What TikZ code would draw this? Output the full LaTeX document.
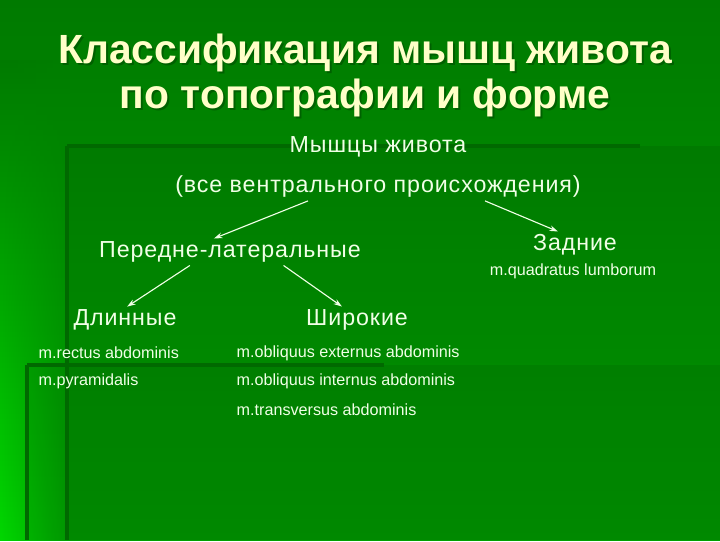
\documentclass[tikz,border=0pt]{standalone}
\usepackage{fontspec}
\setmainfont{Liberation Sans}
\usetikzlibrary{arrows.meta, calc, fadings}

\definecolor{bgtop}{RGB}{0,122,0}
\definecolor{bgbot}{RGB}{0,160,0}
\definecolor{glow}{RGB}{0,215,0}
\definecolor{rulecol}{RGB}{0,105,0}
\definecolor{titlecol}{RGB}{255,255,200}
\definecolor{txt}{RGB}{240,255,230}

\tikzfading[name=fadeleft, left color=transparent!0, right color=transparent!100]

\tikzset{
  ttl/.style={text=titlecol, font=\bfseries\fontsize{29}{32}\selectfont, align=center},
  lbl/.style={text=txt, font=\fontsize{16.5}{18}\selectfont\addfontfeatures{LetterSpace=4}, inner sep=2pt},
  latin/.style={text=txt, font=\fontsize{11.5}{13}\selectfont, inner sep=1pt, anchor=west},
  arr/.style={txt, line width=0.8pt, -{Stealth[length=6pt,width=4pt]}},
  deco/.style={rulecol, line width=2.2pt},
}

\begin{document}
\begin{tikzpicture}[x=0.025cm, y=-0.025cm]
        % Background
        \shade[top color=bgtop, bottom color=bgbot] (0,0) rectangle (720,540);
        \shade[top color=bgtop, bottom color=glow, path fading=fadeleft] (0,60) rectangle (70,540);
        \fill[black, opacity=0.07] (67,146) rectangle (720,540);
        \fill[black, opacity=0.07] (27,365) rectangle (720,540);
        \draw[deco] (67,146) -- (640,146);
        \draw[deco] (67,146) -- (67,540);
        \draw[deco] (27,365) -- (384,365);
        \draw[deco] (27,365) -- (27,540);

        % Title
        \node[ttl, text=black!70!green, opacity=0.6] (titleshadow) at (367,77) {Классификация мышц живота\\по топографии и форме};
        \node[ttl] (title) at (365,75) {Классификация мышц живота\\по топографии и форме};

        % Tree
        \node[lbl] (muscles) at (378,147) {Мышцы живота};
        \node[lbl] (ventral) at (378,187) {(все вентрального происхождения)};
        \node[lbl] (antlat) at (230,252) {Передне-латеральные};
        \node[lbl] (post) at (575,245) {Задние};
        \node[latin, anchor=center] (quadratus) at (573,271) {m.quadratus lumborum};
        \node[lbl] (long) at (125,320) {Длинные};
        \node[lbl] (broad) at (357,320) {Широкие};

        % Latin names
        \node[latin] (rectus) at (37,353) {m.rectus abdominis};
        \node[latin] (pyramidalis) at (37,381) {m.pyramidalis};
        \node[latin] (externus) at (235,353) {m.obliquus externus abdominis};
        \node[latin] (internus) at (235,381) {m.obliquus internus abdominis};
        \node[latin] (transversus) at (235,410) {m.transversus abdominis};

        % Arrows
        \draw[arr] ($(ventral.south west)!0.33!(ventral.south east)$) -- ($(antlat.north west)!0.44!(antlat.north east)$);
        \draw[arr] ($(ventral.south west)!0.76!(ventral.south east)$) -- ($(post.north west)!0.31!(post.north east)$);
        \draw[arr] ($(antlat.south west)!0.35!(antlat.south east)$) -- ($(long.north west)!0.52!(long.north east)$);
        \draw[arr] ($(antlat.south west)!0.70!(antlat.south east)$) -- ($(broad.north west)!0.36!(broad.north east)$);
\end{tikzpicture}
\end{document}
